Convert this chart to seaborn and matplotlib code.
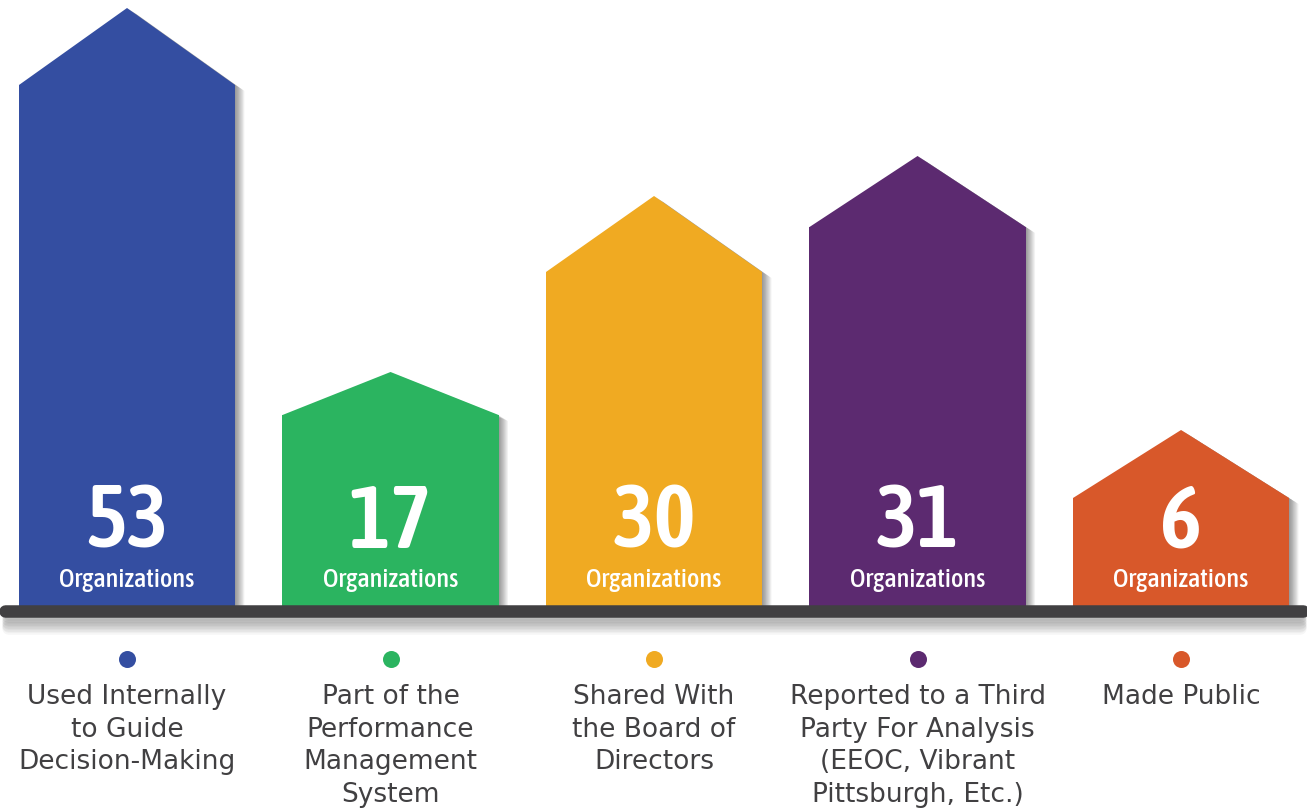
import matplotlib.pyplot as plt
import seaborn as sns
import pandas as pd
from matplotlib.patches import Polygon
from matplotlib import font_manager as fm

# values shown on the bars
categories = ["Used Internally\nto Guide\nDecision-Making",
              "Part of the\nPerformance\nManagement\nSystem",
              "Shared With\nthe Board of\nDirectors",
              "Reported to a Third\nParty For Analysis\n(EEOC, Vibrant\nPittsburgh, Etc.)",
              "Made Public"]
counts = [53, 17, 30, 31, 6]
# drawn heights of the houses (walls and roof peak)
wall_height = [522, 192, 335, 380, 109]
peak_height = [599, 235, 411, 451, 177]
colors = ["#344ea1", "#2bb460", "#f0aa22", "#5c2a70", "#d8582a"]

df = pd.DataFrame({"cat": categories, "wall": wall_height})

sns.set_style("white")
plt.rcParams["font.family"] = ["DejaVu Sans"]


def weight_of(f):
    if isinstance(f.weight, int):
        return f.weight
    return 700 if "bold" in str(f.weight).lower() else 400


def pick_condensed(target):
    best = None
    for f in fm.fontManager.ttflist:
        nm = (f.name + " " + str(f.stretch) + " " + f.fname).lower()
        if not any(k in nm for k in ("condensed", "narrow")):
            continue
        if "oblique" in nm or "italic" in nm:
            continue
        score = abs(weight_of(f) - target)
        if "dejavu" in nm:
            score += 1000
        if best is None or score < best[0]:
            best = (score, f.fname)
    return best[1] if best else None


bold_file = pick_condensed(600)
reg_file = pick_condensed(500)


def fprops(path, size, weight):
    if path:
        return fm.FontProperties(fname=path, size=size)
    return fm.FontProperties(family="Lato", size=size * 0.8, weight=weight)


fig = plt.figure(figsize=(13.07, 8.09), dpi=100)
ax = fig.add_axes([0, 0, 1, 1])
sns.barplot(data=df, x="cat", y="wall", hue="cat", palette=colors, saturation=1,
            width=0.82, legend=False, ax=ax, zorder=3)

ax.set_xlim(-0.482, 4.478)
ax.set_ylim(-202, 607)
ax.axis("off")

# roofs + soft shadows
for patch, peak, col in zip(ax.patches, peak_height, colors):
    x0 = patch.get_x()
    w = patch.get_width()
    h = patch.get_height()
    patch.set_linewidth(0)
    roof = Polygon([[x0, h], [x0 + w / 2, peak], [x0 + w, h]], closed=True,
                   facecolor=col, edgecolor="none", zorder=3)
    ax.add_patch(roof)
    house = [[x0, 0], [x0, h], [x0 + w / 2, peak], [x0 + w, h], [x0 + w, 0]]
    for k in range(1, 13):
        dx = k * 0.003
        dy = -k * 0.5
        shp = Polygon([[p[0] + dx, p[1] + dy] for p in house], closed=True,
                      facecolor="black", edgecolor="none", alpha=0.04, zorder=2)
        ax.add_patch(shp)

# base line with shadow
xl, xr = -0.462, 4.462
for k in range(1, 12):
    ax.plot([xl + 0.01, xr - 0.01], [-4 - k * 1.5, -4 - k * 1.5], color="black",
            alpha=0.035, lw=9, solid_capstyle="round", zorder=2)
ax.plot([xl, xr], [-4, -4], color="#414042", lw=9, solid_capstyle="round", zorder=4)

for i, (n, col, cat) in enumerate(zip(counts, colors, categories)):
    ax.text(i, 84, str(n), ha="center", va="center", color="white",
            fontproperties=fprops(bold_file, 64, "bold"), zorder=5)
    ax.text(i, 28, "Organizations", ha="center", va="center", color="white",
            fontproperties=fprops(reg_file, 19, "normal"), zorder=5)
    ax.scatter([i], [-52], s=150, color=col, zorder=5, linewidths=0)
    ax.text(i, -77, cat, ha="center", va="top", color="#414042",
            fontsize=19, linespacing=1.33, zorder=5)

fig.savefig("out.png", dpi=100)
